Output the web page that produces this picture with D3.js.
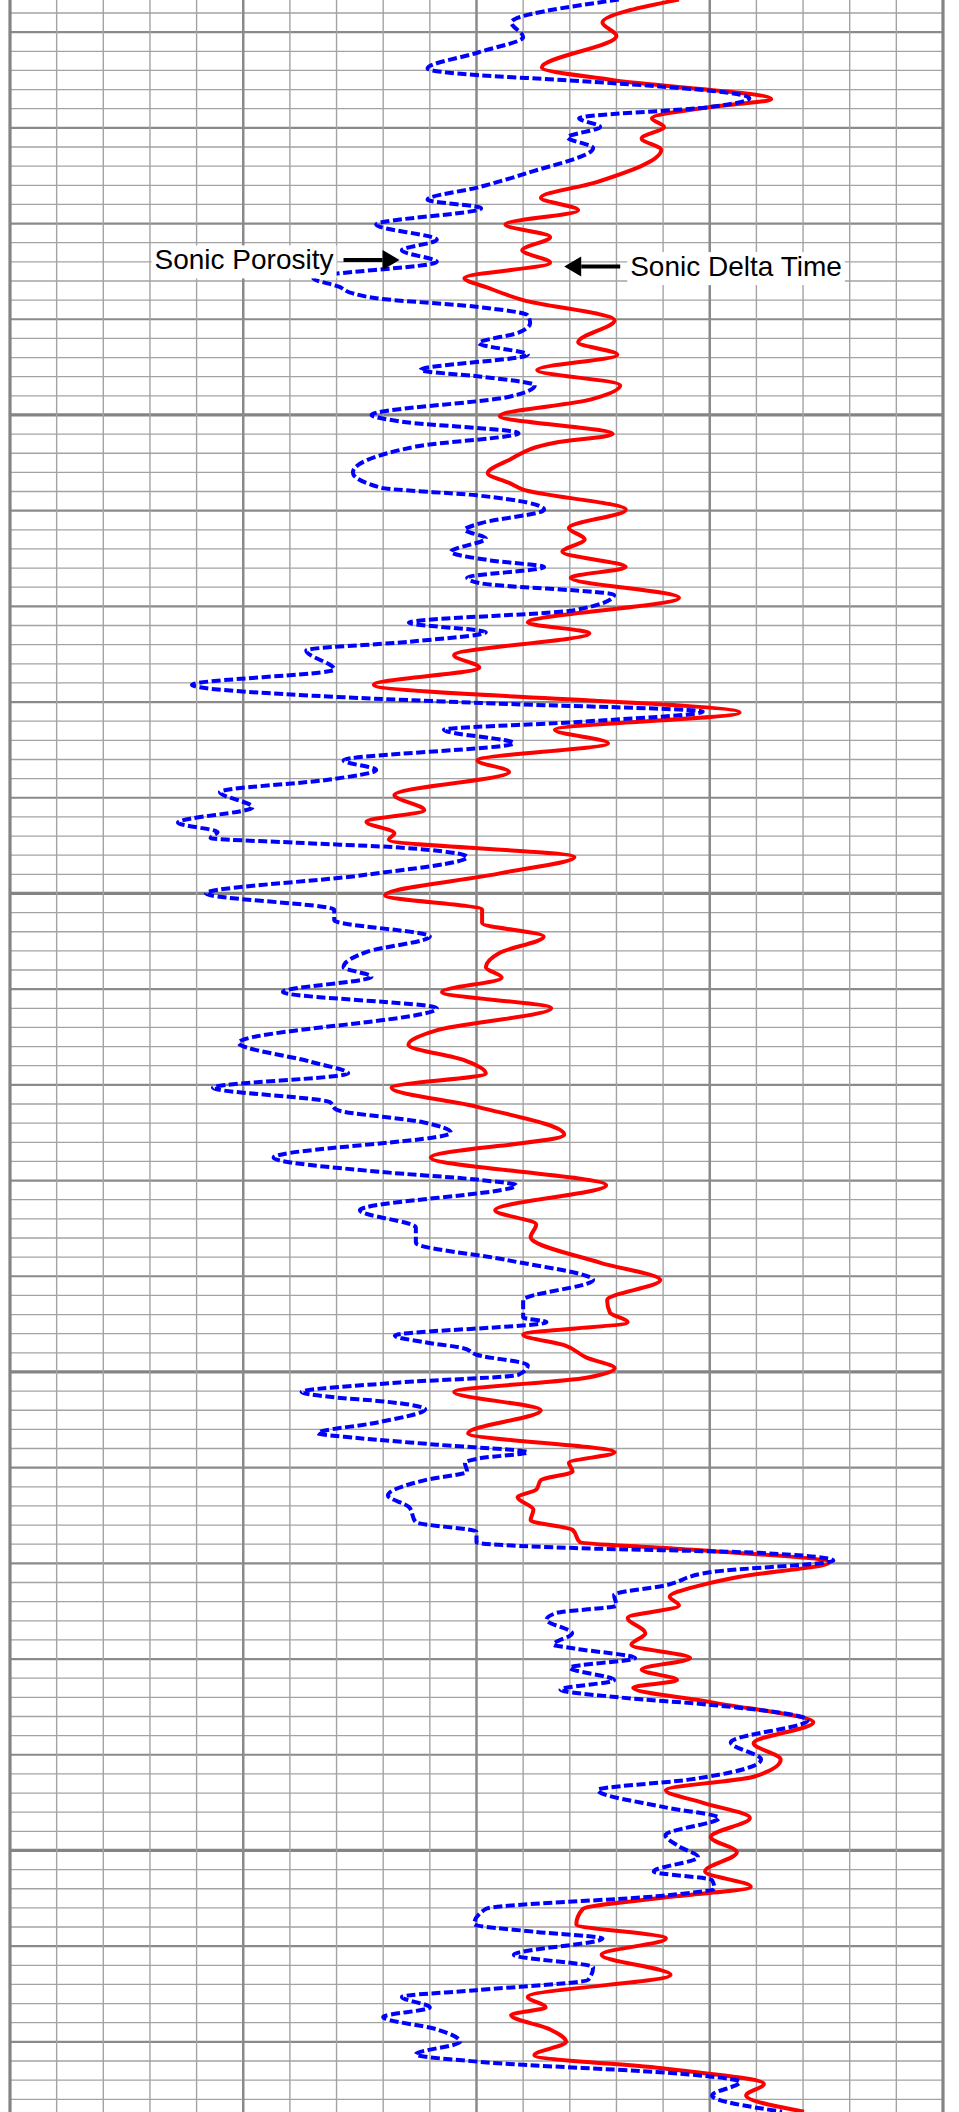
<!DOCTYPE html>
<html><head><meta charset="utf-8">
<script src="https://cdn.jsdelivr.net/npm/d3@7"></script>
<style>html,body{margin:0;padding:0;background:#fff;} svg{display:block;}</style>
</head><body>
<script>
// Sonic Delta Time (us/ft) vs depth (ft)
const dtDepth = [4956.6,4959.0,4960.4,4963.7,4965.0,4967.0,4967.8,4969.0,4969.9,4971.1,4972.3,4975.7,4977.3,4978.6,4980.1,4981.4,4982.8,4984.1,4985.7,4986.7,4988.0,4990.1,4992.4,4993.7,4995.3,4996.9,4998.4,5000.1,5002.0,5002.9,5004.7,5006.1,5007.1,5007.8,5009.9,5011.8,5013.0,5014.3,5015.9,5017.0,5019.1,5021.7,5022.8,5025.1,5026.4,5028.2,5031.1,5032.9,5034.3,5036.1,5037.3,5039.7,5041.3,5042.5,5043.7,5044.4,5046.2,5047.9,5050.2,5051.7,5053.1,5054.5,5056.2,5057.7,5058.8,5060.3,5062.0,5064.3,5065.8,5067.4,5068.8,5070.3,5072.3,5075.2,5077.6,5080.5,5083.1,5084.6,5085.9,5088.6,5090.4,5092.5,5093.8,5094.8,5096.1,5097.2,5098.5,5099.6,5100.6,5102.1,5104.0,5106.4,5108.4,5109.5,5110.4,5111.3,5112.3,5113.1,5114.4,5115.5,5116.5,5117.8,5118.4,5119.9,5121.4,5122.3,5123.5,5124.4,5125.7,5127.3,5128.5,5129.9,5131.1,5132.2,5133.0,5134.5,5136.6,5138.8,5140.5,5142.3,5143.7,5145.0,5146.6,5148.6,5150.2,5152.2,5153.8,5154.9,5156.1,5157.7,5159.2,5160.9,5163.0,5165.3,5166.4,5167.2,5168.7,5170.0,5171.4,5172.8,5174.4,5175.6,5177.3];
const dtValues = [111.7,103.5,105.0,97.0,104.5,121.6,115.2,108.8,110.1,107.7,109.8,102.8,96.9,100.9,93.1,97.9,94.9,97.9,88.7,91.2,95.0,104.8,100.9,105.1,96.5,105.4,102.2,92.5,104.6,98.4,93.5,91.2,93.5,95.0,106.0,99.9,101.6,99.2,106.0,100.1,111.7,95.5,102.1,87.6,90.3,79.0,118.2,98.4,104.1,90.1,93.5,81.2,84.4,78.2,81.2,80.6,100.5,92.5,80.2,90.6,90.6,97.2,92.5,91.0,92.7,86.3,98.0,85.7,82.7,88.6,91.0,80.9,90.1,99.4,85.1,103.9,92.0,96.4,95.8,103.3,109.7,104.0,104.3,106.2,95.0,99.4,101.8,104.8,101.8,87.6,96.9,89.1,104.8,99.9,100.3,96.9,96.4,94.4,96.1,95.8,100.3,101.1,110.3,127.8,118.2,114.0,110.7,111.7,106.2,108.1,106.6,112.9,107.7,111.5,106.8,115.1,126.1,119.7,122.6,119.7,110.3,114.2,119.3,115.1,117.9,114.5,119.4,110.3,101.4,100.7,110.3,103.4,110.8,95.5,97.4,93.7,97.9,99.6,96.2,110.3,120.8,118.9,125.1];
// Sonic Porosity (%) vs depth (ft)
const phiDepth = [4956.6,4959.0,4960.5,4962.1,4963.8,4964.5,4965.0,4966.9,4967.8,4969.0,4969.9,4971.0,4972.1,4974.7,4976.2,4977.5,4978.4,4980.1,4981.7,4982.8,4984.0,4985.7,4986.6,4987.3,4987.8,4988.7,4989.6,4990.4,4991.4,4992.5,4993.7,4995.3,4996.0,4996.9,4998.1,5000.0,5000.7,5001.9,5003.3,5006.0,5007.6,5008.4,5009.9,5011.3,5012.0,5012.9,5014.3,5015.2,5015.9,5017.0,5017.6,5018.8,5020.4,5021.7,5022.7,5023.7,5024.6,5026.6,5028.2,5029.5,5030.1,5031.0,5032.1,5032.9,5034.3,5036.1,5037.1,5038.1,5039.4,5041.0,5042.6,5043.6,5044.2,5044.7,5045.2,5046.2,5048.1,5050.0,5051.7,5052.8,5054.5,5056.1,5057.7,5058.7,5060.3,5062.0,5065.6,5067.6,5068.8,5070.3,5071.8,5072.6,5073.9,5075.0,5077.6,5079.1,5079.9,5080.5,5083.1,5084.9,5086.5,5088.3,5090.4,5092.5,5094.3,5094.8,5096.2,5096.9,5097.5,5098.2,5099.3,5100.3,5101.1,5102.1,5102.6,5103.1,5103.9,5105.3,5106.4,5106.9,5107.6,5108.4,5109.0,5109.5,5110.4,5111.3,5112.9,5114.1,5115.7,5116.7,5117.8,5118.4,5118.9,5119.7,5120.9,5122.3,5123.3,5124.4,5125.2,5125.9,5127.3,5128.5,5128.9,5129.9,5130.9,5132.2,5133.2,5134.0,5134.8,5136.4,5138.7,5140.5,5142.6,5143.7,5145.5,5146.6,5148.4,5149.6,5150.7,5152.2,5153.1,5154.0,5154.7,5156.1,5157.7,5158.5,5159.2,5160.9,5162.2,5163.5,5164.6,5165.3,5166.4,5167.4,5168.7,5170.0,5171.3,5172.1,5173.4,5174.2,5175.6,5177.3];
const phiValues = [26.1,21.5,22.0,20.1,17.9,20.1,23.7,31.7,30.1,24.4,25.3,23.9,25.0,22.2,20.1,17.9,20.2,15.7,18.3,16.8,18.3,13.0,14.1,14.7,15.7,20.0,22.2,22.3,21.8,20.1,22.2,17.6,20.2,22.5,21.4,15.5,16.8,21.8,17.4,14.7,15.9,20.0,22.9,20.2,19.5,20.4,18.9,20.6,22.9,19.6,20.2,25.9,24.2,17.1,20.4,17.1,12.7,13.9,7.8,14.3,20.2,29.7,24.2,18.6,21.6,14.3,15.7,13.7,9.0,10.4,7.2,8.9,8.6,12.3,16.7,19.6,15.1,8.4,13.9,13.9,18.0,15.3,14.3,15.5,11.7,18.3,9.8,12.9,14.5,8.7,13.7,14.0,17.7,18.9,11.3,15.9,20.0,21.7,15.0,17.4,17.4,21.3,25.0,22.0,22.0,23.0,16.5,17.8,19.4,20.0,22.2,21.8,16.7,12.5,13.7,16.1,17.8,15.7,13.2,14.9,18.3,22.2,20.2,19.5,19.6,17.8,16.2,17.1,17.4,20.0,20.0,24.2,32.1,35.3,30.1,28.1,25.9,26.0,23.4,23.0,24.1,23.3,24.2,26.8,24.0,25.9,23.6,26.1,30.1,34.2,30.9,32.2,29.1,25.2,28.1,30.4,28.1,28.7,29.5,27.6,30.1,30.2,28.1,20.4,19.9,22.5,25.4,21.6,25.0,24.8,20.0,16.8,18.0,16.0,18.3,19.3,17.4,20.2,29.1,31.3,30.1,33.1];

const dtTicks = d3.range(40, 141, 5);          // vertical grid, 5 us/ft per division
const depthTicks = d3.range(4958, 5178, 2);    // horizontal grid, 2 ft per division
const labelNames = ["Sonic Porosity", "Sonic Delta Time"];
// annotation anchors (arrow tips) on the curves
const porosityTip = {depth: 4983.8, value: 16.7};
const deltaTip = {depth: 4984.5, value: 99.4};

const W = 959, H = 2112;
const left = 10, right = 943;
const svg = d3.select("body").append("svg").attr("width", W).attr("height", H)
  .style("background", "#fff");

const x = d3.scaleLinear().domain([40, 140]).range([left, right]);
const xPhi = d3.scaleLinear().domain([0, 40]).range([left, right]);
const y = d3.scaleLinear().domain([4956.64, 4956.64 + H / 9.57]).range([0, H]);

const grid = svg.append("g");
// horizontal lines
const hClass = d => d % 50 === 0 ? 2 : (d % 10 === 0 ? 1 : 0);
const hW = [1.3, 2.2, 3.2], hC = ["#a3a3a3", "#8a8a8a", "#848484"];
[0, 1, 2].forEach(level => {
  grid.selectAll(null).data(depthTicks.filter(d => hClass(d) === level)).enter()
    .append("line")
    .attr("x1", left).attr("x2", right)
    .attr("y1", d => y(d)).attr("y2", d => y(d))
    .attr("stroke", hC[level]).attr("stroke-width", hW[level]);
});
// vertical lines
const vClass = t => (t === 40 || t === 140) ? 2 : ((t - 40) % 25 === 0 ? 1 : 0);
const vW = [1.4, 2.5, 3.2], vC = ["#a3a3a3", "#8a8a8a", "#848484"];
[0, 1, 2].forEach(level => {
  grid.selectAll(null).data(dtTicks.filter(t => vClass(t) === level)).enter()
    .append("line")
    .attr("x1", d => x(d)).attr("x2", d => x(d))
    .attr("y1", 0).attr("y2", H)
    .attr("stroke", vC[level]).attr("stroke-width", vW[level]);
});

// curves
const dtData = dtDepth.map((d, i) => ({depth: d, v: dtValues[i]}));
const phiData = phiDepth.map((d, i) => ({depth: d, v: phiValues[i]}));

svg.append("path").datum(dtData)
  .attr("d", d3.line().x(d => x(d.v)).y(d => y(d.depth)).curve(d3.curveMonotoneY))
  .attr("fill", "none").attr("stroke", "#ff0000").attr("stroke-width", 4)
  .attr("stroke-linejoin", "round");

svg.append("path").datum(phiData)
  .attr("d", d3.line().x(d => xPhi(d.v)).y(d => y(d.depth)).curve(d3.curveMonotoneY))
  .attr("fill", "none").attr("stroke", "#0000ff").attr("stroke-width", 4)
  .attr("stroke-dasharray", "9,3.5");

// annotations
const font = "'Liberation Sans', Arial, sans-serif";
function annotate(tipX, tipY, dir, name) {
  // dir = +1 arrow points right (text on left), -1 arrow points left (text on right)
  const g = svg.append("g");
  const len = 56, head = 17, hh = 10;
  const tailX = tipX - dir * len;
  const textX = tailX - dir * 10;
  const bg = g.append("rect").attr("fill", "#fff");
  const t = g.append("text").attr("x", textX).attr("y", tipY + 9.5)
    .attr("text-anchor", dir > 0 ? "end" : "start")
    .attr("font-family", font).attr("font-size", 28).attr("fill", "#000")
    .text(name);
  const bb = t.node().getBBox();
  bg.attr("x", bb.x - 3).attr("y", bb.y + 1).attr("width", bb.width + 6).attr("height", bb.height + 2);
  g.append("line").attr("x1", tailX).attr("x2", tipX - dir * head)
    .attr("y1", tipY).attr("y2", tipY).attr("stroke", "#000").attr("stroke-width", 4);
  g.append("path")
    .attr("d", `M${tipX},${tipY} L${tipX - dir * head},${tipY - hh} L${tipX - dir * head},${tipY + hh} Z`)
    .attr("fill", "#000");
}
annotate(xPhi(porosityTip.value), y(porosityTip.depth), 1, labelNames[0]);
annotate(x(deltaTip.value), y(deltaTip.depth), -1, labelNames[1]);
</script>
</body></html>
